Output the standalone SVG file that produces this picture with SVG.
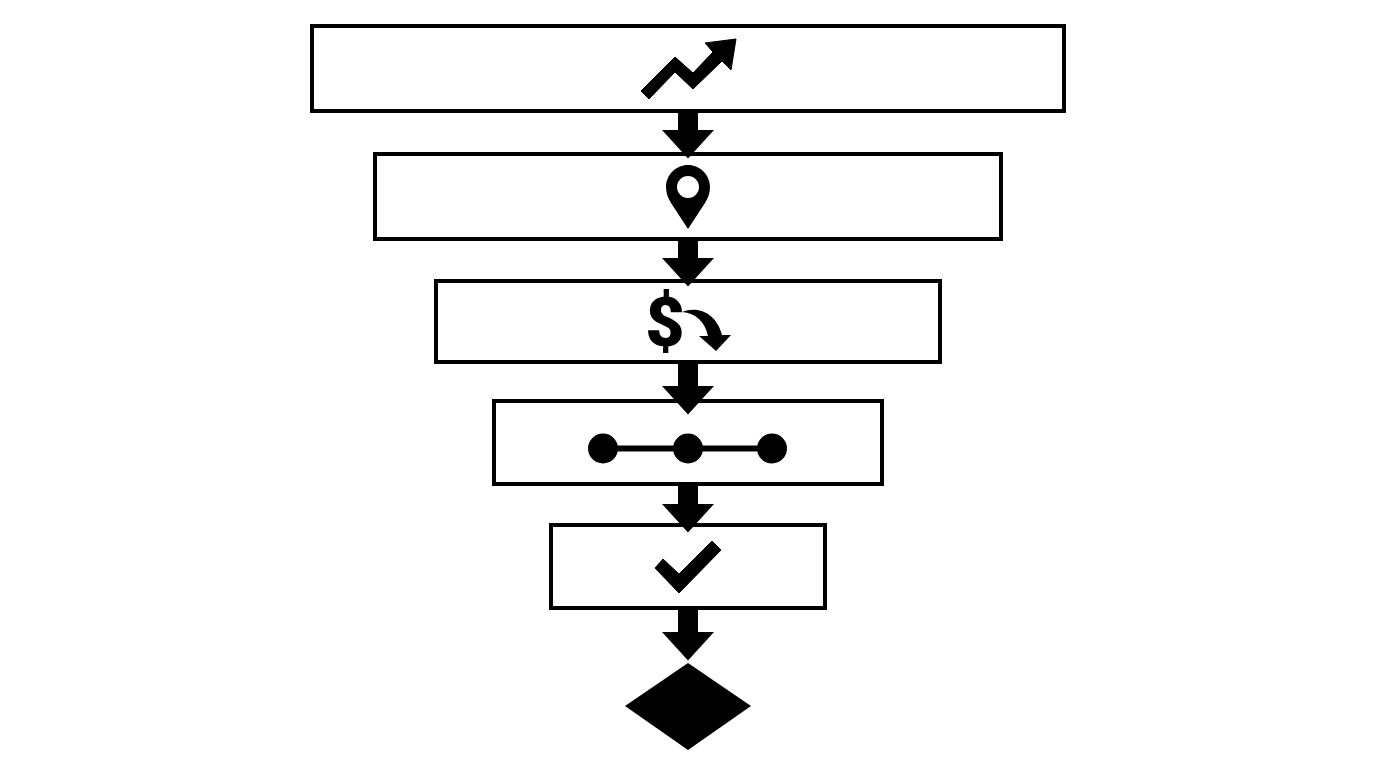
<svg xmlns="http://www.w3.org/2000/svg" width="1376" height="768" viewBox="0 0 1376 768">
<style>
.box{fill:#fff;stroke:#000;stroke-width:4}
.ico{fill:#000}
.bold{stroke:#000;stroke-width:1}
.dollar{font-family:Roboto,"Liberation Sans",sans-serif;font-weight:900;font-size:68px;text-anchor:middle;fill:#000}
</style>
<defs>
<path id="arrow" d="M-10 0H10V19H26L0 47.500L-26 19H-10Z" fill="#000"/>
<path id="arrow-long" d="M-10 0H10V24H26L0 52.500L-26 24H-10Z" fill="#000"/>
</defs>
<rect width="1376" height="768" fill="#fff"/>
<g id="node-1">
<rect class="box" x="312" y="26" width="752" height="85"/>
<path class="ico bold" d="M641 91L675 57L693 73L713 52L705 43L736 39L731 70L722 61L693 89L675 72L649 99Z"/>
</g>
<g id="node-2">
<rect class="box" x="375" y="154" width="626" height="85"/>
<path class="ico" fill-rule="evenodd" d="M688 165C700 165 710 175 710 187C710 193 708 198 705 203L688 229L671 203C668 198 666 193 666 187C666 175 676 165 688 165ZM688 176A11 11 0 1 0 688 198A11 11 0 1 0 688 176Z"/>
</g>
<g id="node-3">
<rect class="box" x="436" y="281" width="504" height="81"/>
<text class="dollar" x="665" y="346">$</text>
<path class="ico" d="M682 312C700 305 717 315 722 335H731L716 351L699 336H708C705 322 696 313 682 312Z"/>
</g>
<g id="node-4">
<rect class="box" x="494" y="401" width="388" height="83"/>
<path d="M603 448.500H772" stroke="#000" stroke-width="6" fill="none"/>
<circle class="ico" cx="603" cy="448.500" r="15"/>
<circle class="ico" cx="688" cy="448.500" r="15"/>
<circle class="ico" cx="772" cy="448.500" r="15"/>
</g>
<g id="node-5">
<rect class="box" x="551" y="525" width="274" height="83"/>
<path class="ico bold" d="M655 568L663 559L679 574L712 541L721 550L679 593Z"/>
</g>
<g id="node-6">
<path class="ico" d="M688 663L751 706L688 750L625 706Z"/>
</g>
<g id="connectors">
<use href="#arrow" x="688" y="111"/>
<use href="#arrow" x="688" y="239"/>
<use href="#arrow-long" x="688" y="362"/>
<use href="#arrow" x="688" y="485"/>
<use href="#arrow-long" x="688" y="608"/>
</g>
</svg>
